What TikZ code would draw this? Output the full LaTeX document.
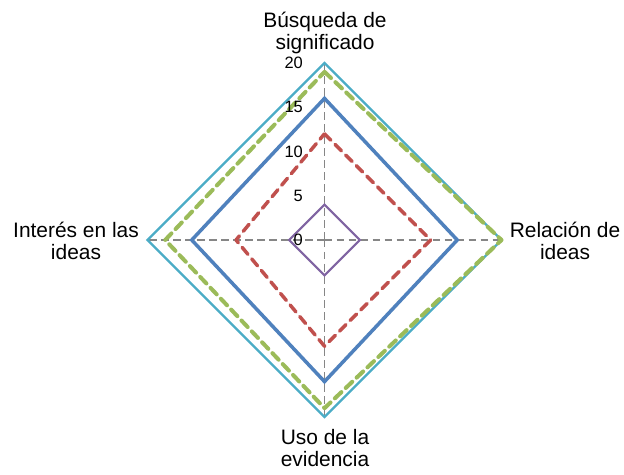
\documentclass[tikz,border=0pt]{standalone}
\usepackage{fontspec}
\setmainfont{Liberation Sans}
\definecolor{sercyan}{HTML}{4BACC6}
\definecolor{serblue}{HTML}{4F81BD}
\definecolor{serred}{HTML}{C0504D}
\definecolor{sergreen}{HTML}{9BBB59}
\definecolor{serpurple}{HTML}{8064A2}
\definecolor{gridgrey}{HTML}{868686}
\tikzset{
  spoke/.style={draw=gridgrey, line width=1.8bp, dash pattern=on 7.5bp off 4.5bp},
  axislabel/.style={font=\fontsize{21}{22}\selectfont, align=center, inner sep=0pt},
  ticklabel/.style={font=\fontsize{16.5}{18}\selectfont, anchor=east, inner sep=0pt},
  cyanser/.style={draw=sercyan, line width=2.2bp, line join=miter},
  blueser/.style={draw=serblue, line width=3.5bp, line join=miter},
  redser/.style={draw=serred, line width=3.5bp, dash pattern=on 9bp off 6bp, line join=round, line cap=round},
  greenser/.style={draw=sergreen, line width=4bp, dash pattern=on 9bp off 6bp, line join=round, line cap=round},
  purpleser/.style={draw=serpurple, line width=2bp, line join=miter},
}
\begin{document}
\begin{tikzpicture}[x=1bp,y=-1bp]
\useasboundingbox (0,0) rectangle (624,475);
\fill[white] (0,0) rectangle (624,475);
\coordinate (c) at (324.5,240);
\begin{scope}[shift={(324.5,240)}, x=8.85bp, y=8.85bp]
  \coordinate (top) at (0,20);
  \coordinate (bot) at (0,-20);
  \coordinate (lft) at (-20,0);
  \coordinate (rgt) at (20,0);
  % spokes
  \draw[spoke] (c) -- (top);
  \draw[spoke] (c) -- (rgt);
  \draw[spoke] (c) -- (bot);
  \draw[spoke] (c) -- (lft);
  % series
  \draw[cyanser] (0,20) -- (20,0) -- (0,-20) -- (-20,0) -- cycle;
  \draw[blueser] (0,16) -- (15,0) -- (0,-16) -- (-15,0) -- cycle;
  \draw[redser] (0,12) -- (12,0) -- (0,-12) -- (-10,0) -- cycle;
  \draw[greenser] (0,19) -- (20,0) -- (0,-19) -- (-18,0) -- cycle;
  \draw[purpleser] (0,4) -- (4,0) -- (0,-4) -- (-4,0) -- cycle;
\end{scope}
% tick labels
\node[ticklabel] (t0) at (303,240) {0};
\node[ticklabel] (t5) at (303,195.75) {5};
\node[ticklabel] (t10) at (303,151.5) {10};
\node[ticklabel] (t15) at (303,107.25) {15};
\node[ticklabel] (t20) at (303,63) {20};
% axis labels
\node[axislabel] (ltop) at (325,33) {Búsqueda de\\significado};
\node[axislabel] (lrgt) at (565,241) {Relación de\\ideas};
\node[axislabel] (lbot) at (325,448) {Uso de la\\evidencia};
\node[axislabel] (llft) at (76,241) {Interés en las\\ideas};
\end{tikzpicture}
\end{document}
